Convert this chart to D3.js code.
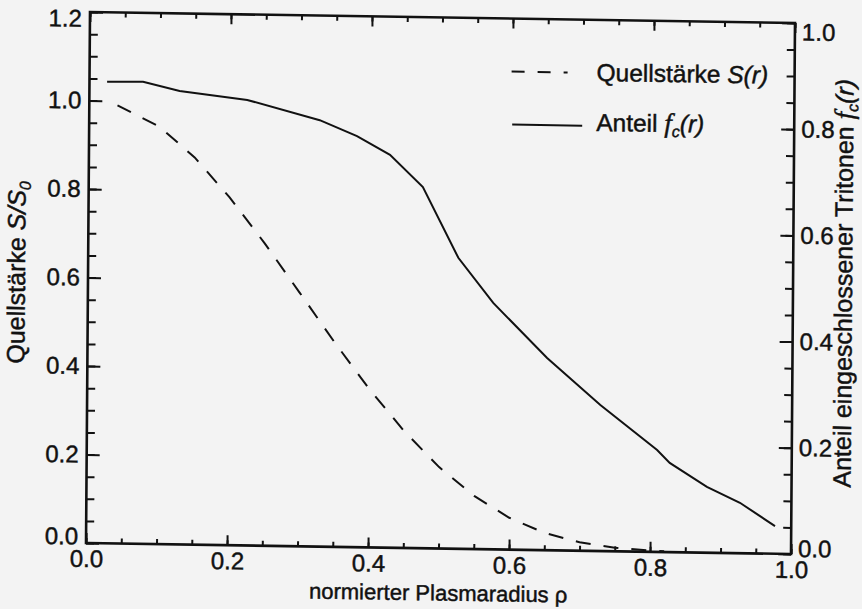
<!DOCTYPE html>
<html><head><meta charset="utf-8">
<script src="https://cdn.jsdelivr.net/npm/d3@7"></script>
<style>
html,body{margin:0;padding:0;background:#f3f3f3;}
svg{display:block;}
text{font-family:"Liberation Sans",Arial,Helvetica,sans-serif;fill:#111;stroke:#111;stroke-width:0.45px;}
</style></head>
<body><svg id="c" width="862" height="609"></svg>
<script>
// ---- data ----
const rhoS = [0.04, 0.10, 0.15, 0.20, 0.25, 0.30, 0.35, 0.40, 0.45, 0.50, 0.55, 0.60, 0.65, 0.70, 0.75, 0.80, 0.82];
const sourceS = [0.990, 0.943, 0.875, 0.786, 0.684, 0.574, 0.463, 0.358, 0.264, 0.184, 0.120, 0.072, 0.039, 0.019, 0.008, 0.003, 0.002];
const rhoF = [0.025, 0.076, 0.128, 0.224, 0.327, 0.380, 0.427, 0.474, 0.525, 0.575, 0.652, 0.728, 0.809, 0.827, 0.880, 0.927, 0.977];
const fracF = [0.869, 0.870, 0.854, 0.839, 0.803, 0.774, 0.740, 0.680, 0.548, 0.464, 0.362, 0.275, 0.192, 0.168, 0.124, 0.095, 0.052];
const xTickVals = [0, 0.2, 0.4, 0.6, 0.8, 1.0];
const xTickLabels = ["0.0", "0.2", "0.4", "0.6", "0.8", "1.0"];
const yLTickVals = [0, 0.2, 0.4, 0.6, 0.8, 1.0, 1.2];
const yLTickLabels = ["0.0", "0.2", "0.4", "0.6", "0.8", "1.0", "1.2"];
const yRTickVals = [0, 0.2, 0.4, 0.6, 0.8, 1.0];
const yRTickLabels = ["0.0", "0.2", "0.4", "0.6", "0.8", "1.0"];
const legendLabels = ["Quellstärke", "Anteil"];
const xTitle = "normierter Plasmaradius ρ";
const yLTitle = "Quellstärke";
const yRTitle = "Anteil eingeschlossener Tritonen";

// ---- layout ----
const W = 705, H = 531;
const svg = d3.select("#c");
svg.append("rect").attr("width", 862).attr("height", 609).attr("fill", "#f3f3f3");
const g = svg.append("g").attr("transform", "matrix(1,0.0156,-0.0075,1,90,12)");

const x = d3.scaleLinear().domain([0, 1]).range([0, W]);
const yL = d3.scaleLinear().domain([0, 1.2]).range([H, 0]);
const yR = d3.scaleLinear().domain([0, 1]).range([H, 0]);

const minor = (a, b, s) => d3.range(Math.round((b - a) / s) + 1).map(i => +(a + i * s).toFixed(3));
const xMinor = minor(0, 1, 0.05);
const yLMinor = minor(0, 1.2, 0.05);
const yRMinor = minor(0, 1, 0.05);

function styleAxis(sel) {
  sel.select(".domain").remove();
  sel.selectAll(".tick line").attr("stroke", "#111").attr("stroke-width", 2);
  sel.selectAll("text").attr("font-size", 24).attr("fill", "#111")
     .style("font-family", '"Liberation Sans",Arial,sans-serif');
}
// minor ticks
g.append("g").attr("transform", `translate(0,${H})`).call(d3.axisBottom(x).tickValues(xMinor).tickSize(-5).tickFormat("")).call(styleAxis);
g.append("g").call(d3.axisTop(x).tickValues(xMinor).tickSize(-5).tickFormat("")).call(styleAxis);
g.append("g").call(d3.axisLeft(yL).tickValues(yLMinor).tickSize(-8).tickFormat("")).call(styleAxis);
g.append("g").attr("transform", `translate(${W},0)`).call(d3.axisRight(yR).tickValues(yRMinor).tickSize(-8).tickFormat("")).call(styleAxis);
// major ticks
g.append("g").attr("transform", `translate(0,${H})`)
  .call(d3.axisBottom(x).tickValues(xTickVals).tickSize(-10).tickPadding(7).tickFormat((d, i) => xTickLabels[i])).call(styleAxis);
g.append("g").call(d3.axisTop(x).tickValues(xTickVals).tickSize(-10).tickFormat("")).call(styleAxis);
const yl = g.append("g").call(d3.axisLeft(yL).tickValues(yLTickVals).tickSize(-13).tickPadding(8).tickFormat((d, i) => yLTickLabels[i])).call(styleAxis);
const yr = g.append("g").attr("transform", `translate(${W},0)`)
  .call(d3.axisRight(yR).tickValues(yRTickVals).tickSize(-13).tickPadding(7).tickFormat((d, i) => yRTickLabels[i])).call(styleAxis);
// labels at the frame ends sit slightly inside
yl.selectAll(".tick text").attr("dy", d => d === 1.2 ? "0.6em" : d === 0 ? "0.05em" : "0.32em");
yr.selectAll(".tick text").attr("dy", d => d === 1.0 ? "0.7em" : d === 0 ? "0.1em" : "0.32em");

// frame
g.append("rect").attr("x", 0).attr("y", 0).attr("width", W).attr("height", H)
  .attr("fill", "none").attr("stroke", "#111").attr("stroke-width", 2.6);

// lines
const lineS = d3.line().x((d, i) => x(rhoS[i])).y(d => yL(d));
const lineF = d3.line().x((d, i) => x(rhoF[i])).y(d => yR(d));
g.append("path").attr("d", lineS(sourceS)).attr("fill", "none").attr("stroke", "#111")
  .attr("stroke-width", 2).attr("stroke-dasharray", "15,13");
g.append("path").attr("d", lineF(fracF)).attr("fill", "none").attr("stroke", "#111")
  .attr("stroke-width", 2);

// legend
const lg = g.append("g");
lg.append("line").attr("x1", 422).attr("x2", 478).attr("y1", 53).attr("y2", 53)
  .attr("stroke", "#111").attr("stroke-width", 2).attr("stroke-dasharray", "13,13");
lg.append("line").attr("x1", 423).attr("x2", 493).attr("y1", 106).attr("y2", 106)
  .attr("stroke", "#111").attr("stroke-width", 2);
const t1 = lg.append("text").attr("x", 507).attr("y", 61).attr("font-size", 24.5);
t1.append("tspan").text(legendLabels[0] + " ");
t1.append("tspan").attr("font-style", "italic").text("S(r)");
const t2 = lg.append("text").attr("x", 507).attr("y", 111).attr("font-size", 24.5);
t2.append("tspan").text(legendLabels[1] + " ");
t2.append("tspan").attr("font-style", "italic").style("font-family", '"Liberation Serif",serif').attr("font-size", 27).text("f");
t2.append("tspan").attr("font-style", "italic").attr("font-size", 16).attr("dy", 5).text("c");
t2.append("tspan").attr("font-style", "italic").attr("dy", -5).text("(r)");

// axis titles
g.append("text").attr("x", W / 2).attr("y", H + 52).attr("text-anchor", "middle").attr("font-size", 22).text(xTitle);
const tl = g.append("text").attr("transform", `translate(-63,${H / 2 - 4}) rotate(-90)`).attr("text-anchor", "middle").attr("font-size", 25);
tl.append("tspan").text(yLTitle + " ");
tl.append("tspan").attr("font-style", "italic").text("S/S");
tl.append("tspan").attr("font-style", "italic").attr("font-size", 16).attr("dy", 5).text("0");
const tr = g.append("text").attr("transform", `translate(764,${H / 2 - 6}) rotate(-90)`).attr("text-anchor", "middle").attr("font-size", 25);
tr.append("tspan").text(yRTitle + " ");
tr.append("tspan").attr("font-style", "italic").style("font-family", '"Liberation Serif",serif').attr("font-size", 27).text("f");
tr.append("tspan").attr("font-style", "italic").attr("font-size", 16).attr("dy", 5).text("c");
tr.append("tspan").attr("font-style", "italic").attr("dy", -5).text("(r)");
</script></body></html>
